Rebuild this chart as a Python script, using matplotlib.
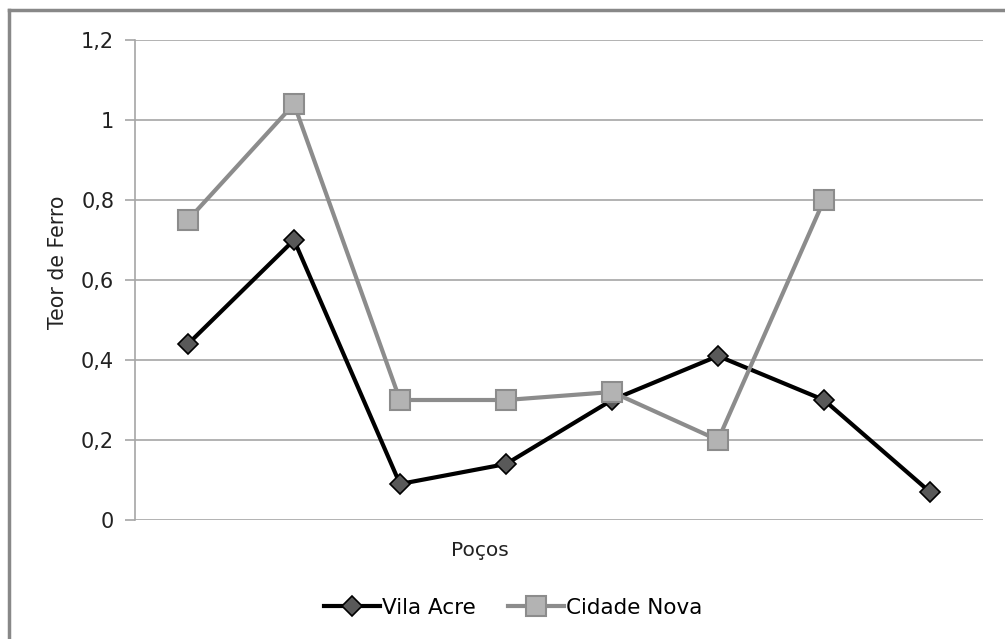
import numpy as np
import matplotlib.pyplot as plt
from matplotlib.lines import Line2D

# Data
pocos = np.arange(1, 9)
vila_acre = [0.44, 0.70, 0.09, 0.14, 0.30, 0.41, 0.30, 0.07]
cidade_nova = [0.75, 1.04, 0.30, 0.30, 0.32, 0.20, 0.80, np.nan]
y_ticks = [0, 0.2, 0.4, 0.6, 0.8, 1.0, 1.2]
y_labels = ['0', '0,2', '0,4', '0,6', '0,8', '1', '1,2']

plt.rcParams['font.family'] = ['DejaVu Sans']

W, H = 1005, 639
fig = plt.figure(figsize=(W / 100, H / 100), dpi=100)
ax = fig.add_axes([135 / W, 1 - 520 / H, 848 / W, 480 / H])

grid_c = '#a6a6a6'
txt_c = '#222222'
for v in y_ticks:
    ax.axhline(v, color=grid_c, lw=1.2, zorder=1)

ax.plot(pocos, vila_acre, color='black', lw=3, marker='D', ms=10,
        mfc='#595959', mec='black', mew=1.2, zorder=3, label='Vila Acre')
ax.plot(pocos, cidade_nova, color='#8c8c8c', lw=3, marker='s', ms=14,
        mfc='#b3b3b3', mec='#8c8c8c', mew=1.5, zorder=4, label='Cidade Nova')

ax.set_xlim(0.5, 8.5)
ax.set_ylim(0, 1.2)
ax.set_xticks([])
ax.set_yticks(y_ticks)
ax.set_yticklabels(y_labels, fontsize=15, color=txt_c)
ax.tick_params(axis='y', length=7, width=1.2, color=grid_c, pad=8)
for s in ['top', 'right', 'bottom']:
    ax.spines[s].set_visible(False)
ax.spines['left'].set_color(grid_c)
ax.spines['left'].set_linewidth(1.2)

fig.text(58 / W, 1 - 262 / H, 'Teor de Ferro', ha='center', va='center',
         rotation=90, fontsize=14.8, color=txt_c)
fig.text(480 / W, 1 - 551 / H, 'Poços', ha='center', va='center',
         fontsize=14.5, color=txt_c)

fig.legend(loc='center', bbox_to_anchor=(513 / W, 1 - 608 / H), ncol=2,
           frameon=False, fontsize=15.5, handlelength=2.6, handletextpad=0.1,
           columnspacing=1.5)

# outer frame (cropped)
fig.add_artist(Line2D([9 / W, 9 / W], [0, 1 - 10 / H], color='#888888',
                      lw=2.5, transform=fig.transFigure))
fig.add_artist(Line2D([9 / W, 1], [1 - 10 / H, 1 - 10 / H], color='#888888',
                      lw=2.5, transform=fig.transFigure))

fig.savefig('out.png', dpi=100)
